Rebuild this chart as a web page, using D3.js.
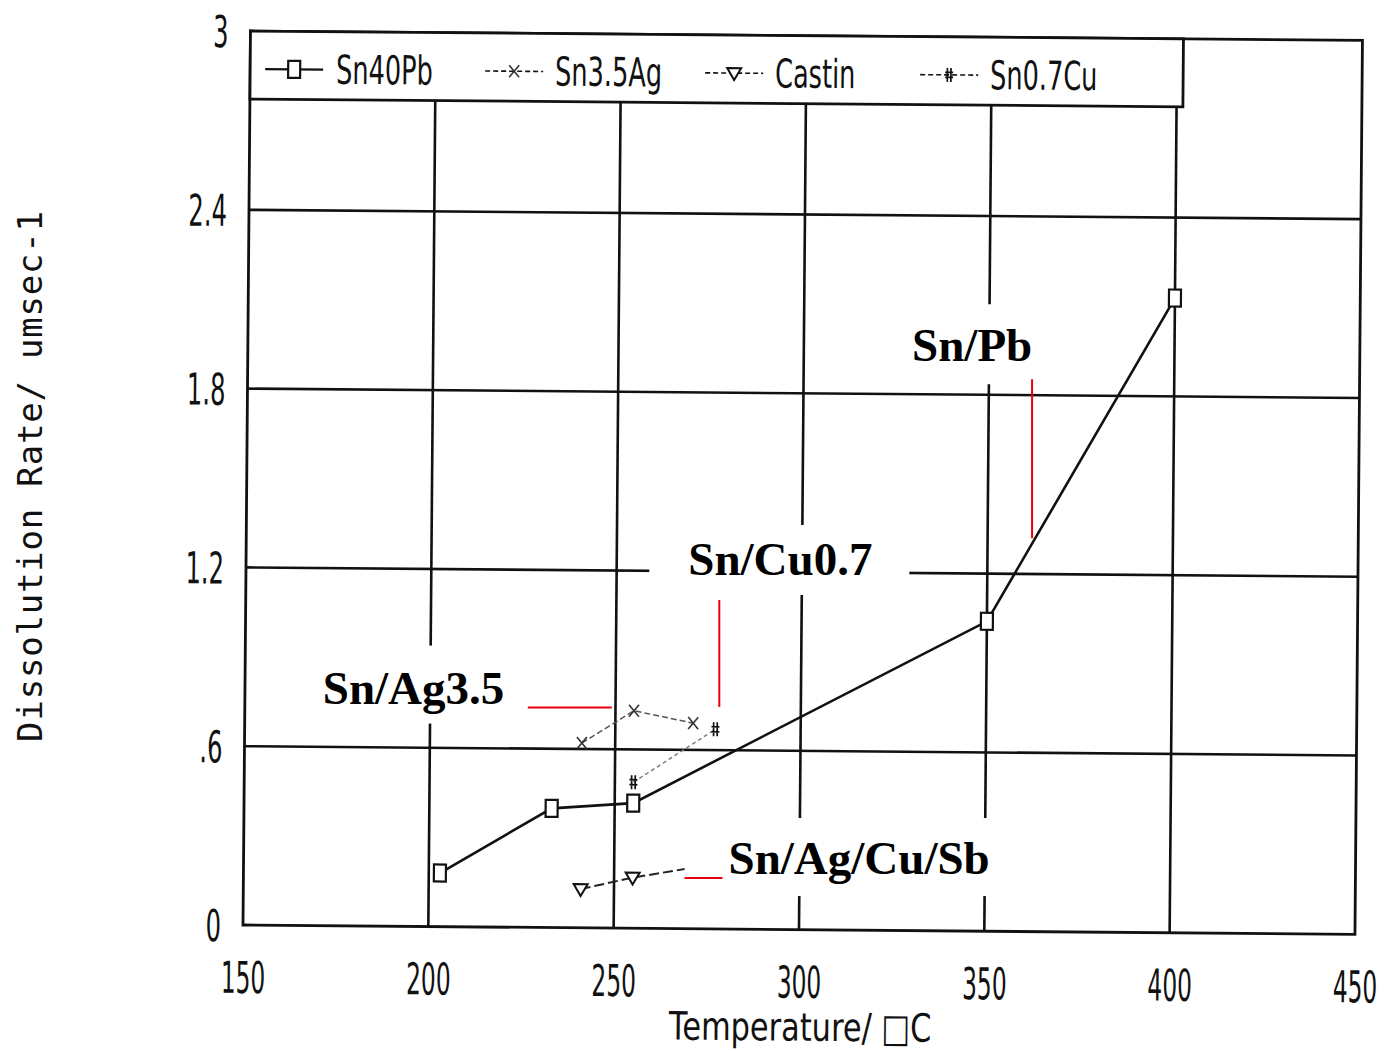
<!DOCTYPE html>
<html>
<head>
<meta charset="utf-8">
<script src="https://cdn.jsdelivr.net/npm/d3@7"></script>
<style>
  body { margin: 0; background: #fff; }
  svg { display: block; }
</style>
</head>
<body>
<svg id="chart" width="1395" height="1051"></svg>
<script>
// ---- data ----
const xTicks = [150, 200, 250, 300, 350, 400, 450];
const yTicks = [0, 0.6, 1.2, 1.8, 2.4, 3];
const yTickLabels = ["0", ".6", "1.2", "1.8", "2.4", "3"];

const seriesNames = ["Sn40Pb", "Sn3.5Ag", "Castin", "Sn0.7Cu"];

const sn40pbTemp = [203, 233, 255, 350, 400];
const sn40pbRate = [0.18, 0.40, 0.42, 1.04, 2.13];

const sn35agTemp = [241, 255, 271];
const sn35agRate = [0.62, 0.73, 0.69];

const castinTemp = [241, 255, 269];
const castinRate = [0.13, 0.17, 0.20];

const sn07cuTemp = [255, 277];
const sn07cuRate = [0.49, 0.67];

const annotationLabels = ["Sn/Pb", "Sn/Cu0.7", "Sn/Ag3.5", "Sn/Ag/Cu/Sb"];

// ---- layout ----
const svg = d3.select("#chart");
const W = 1112, H = 894;
const origin = [243, 925];           // bottom-left corner of the plot
const tiltDeg = 0.48;                // the plotted sheet sits slightly tilted
const tilt = tiltDeg * Math.PI / 180;

const x = d3.scaleLinear().domain([150, 450]).range([0, W]);
const y = d3.scaleLinear().domain([0, 3]).range([H, 0]);

const plot = svg.append("g")
  .attr("transform", `rotate(${tiltDeg},${origin[0]},${origin[1]}) translate(${origin[0]},${origin[1] - H})`);

// screen position of a data point (for the upright annotations)
function project(t, r) {
  const dx = x(t), dy = y(r) - H;
  return [origin[0] + dx * Math.cos(tilt) - dy * Math.sin(tilt),
          origin[1] + dx * Math.sin(tilt) + dy * Math.cos(tilt)];
}

const plotterFont = "'DejaVu Sans', sans-serif";
const monoFont = "'DejaVu Sans Mono', monospace";
const legendH = 68, legendW = 933;

// ---- grid ----
plot.append("g").selectAll("line")
  .data(yTicks.filter(v => v > 0 && v < 3))
  .join("line")
  .attr("x1", 0).attr("x2", W)
  .attr("y1", d => y(d)).attr("y2", d => y(d))
  .attr("stroke", "#111").attr("stroke-width", 2.6);

plot.append("g").selectAll("line")
  .data(xTicks.filter(v => v > 150 && v < 450))
  .join("line")
  .attr("x1", d => x(d)).attr("x2", d => x(d))
  .attr("y1", legendH).attr("y2", H)
  .attr("stroke", "#111").attr("stroke-width", 2.6);

// frame
plot.append("rect")
  .attr("x", 0).attr("y", 0).attr("width", W).attr("height", H)
  .attr("fill", "none").attr("stroke", "#111").attr("stroke-width", 2.8);

// ---- axes (labels only, plotter style) ----
const xAxis = d3.axisBottom(x).tickValues(xTicks).tickSize(0).tickPadding(0).tickFormat(d3.format("d"));
const gx = plot.append("g").attr("transform", `translate(0,${H})`).call(xAxis);
gx.select(".domain").remove();
gx.selectAll("text")
  .attr("font-family", plotterFont).attr("font-size", 44).attr("fill", "#111")
  .attr("dy", null).attr("y", 0)
  .attr("transform", "translate(0,68) scale(0.53,1)")
  .attr("text-anchor", "middle");

const yAxis = d3.axisLeft(y).tickValues(yTicks).tickSize(0).tickPadding(0)
  .tickFormat((d, i) => yTickLabels[i]);
const gy = plot.append("g").call(yAxis);
gy.select(".domain").remove();
gy.selectAll("text")
  .attr("font-family", plotterFont).attr("font-size", 44).attr("fill", "#111")
  .attr("x", 0).attr("dy", "0.36em")
  .attr("transform", "translate(-22,0) scale(0.55,1)")
  .attr("text-anchor", "end");

// axis titles
plot.append("text")
  .attr("transform", `translate(${W / 2 + 2},${H + 111}) scale(0.78,1)`)
  .attr("text-anchor", "middle")
  .attr("font-family", plotterFont).attr("font-size", 39).attr("fill", "#111")
  .text("Temperature/ \u25A1C");

svg.append("text")
  .attr("transform", "translate(42,476) rotate(-90)")
  .attr("text-anchor", "middle")
  .attr("font-family", monoFont).attr("font-size", 34)
  .attr("letter-spacing", 0.8).attr("fill", "#111")
  .text("Dissolution Rate/ umsec-1");

// ---- markers ----
function drawMarker(g, kind, cx, cy) {
  if (kind === "square") {
    g.append("rect").attr("x", cx - 6).attr("y", cy - 8.5).attr("width", 12).attr("height", 17)
      .attr("fill", "#fff").attr("stroke", "#111").attr("stroke-width", 2.2);
  } else if (kind === "cross") {
    g.append("path").attr("d", `M${cx - 5},${cy - 6}L${cx + 5},${cy + 6}M${cx + 5},${cy - 6}L${cx - 5},${cy + 6}`)
      .attr("stroke", "#333").attr("stroke-width", 1.6).attr("fill", "none");
  } else if (kind === "triangle") {
    g.append("path").attr("d", `M${cx - 7},${cy - 5}L${cx + 7},${cy - 5}L${cx},${cy + 7}Z`)
      .attr("fill", "#fff").attr("stroke", "#111").attr("stroke-width", 2);
  } else if (kind === "hash") {
    g.append("path").attr("d",
      `M${cx - 1.8},${cy - 7}L${cx - 1.8},${cy + 7}M${cx + 1.8},${cy - 7}L${cx + 1.8},${cy + 7}` +
      `M${cx - 4},${cy - 2.5}L${cx + 4},${cy - 2.5}M${cx - 4},${cy + 2.5}L${cx + 4},${cy + 2.5}`)
      .attr("stroke", "#111").attr("stroke-width", 1.7).attr("fill", "none");
  }
}

// ---- series ----
const series = [
  { name: seriesNames[0], t: sn40pbTemp, r: sn40pbRate, marker: "square",   color: "#111", width: 2.6, dash: null,   markLast: true },
  { name: seriesNames[1], t: sn35agTemp, r: sn35agRate, marker: "cross",    color: "#555", width: 1.5, dash: "6,3",  markLast: true },
  { name: seriesNames[2], t: castinTemp, r: castinRate, marker: "triangle", color: "#222", width: 2.0, dash: "10,4", markLast: false },
  { name: seriesNames[3], t: sn07cuTemp, r: sn07cuRate, marker: "hash",     color: "#777", width: 1.4, dash: "4,3",  markLast: true }
];

const line = d3.line().x(d => x(d[0])).y(d => y(d[1]));
const dataLayer = plot.append("g");
series.forEach(s => {
  const pts = s.t.map((t, i) => [t, s.r[i]]);
  dataLayer.append("path").datum(pts)
    .attr("d", line).attr("fill", "none")
    .attr("stroke", s.color).attr("stroke-width", s.width)
    .attr("stroke-dasharray", s.dash);
  const mg = dataLayer.append("g");
  pts.forEach((p, i) => {
    if (i === pts.length - 1 && !s.markLast) return;
    drawMarker(mg, s.marker, x(p[0]), y(p[1]));
  });
});

// ---- legend ----
const legend = plot.append("g");
legend.append("rect").attr("x", 0).attr("y", 0).attr("width", legendW).attr("height", legendH)
  .attr("fill", "#fff").attr("stroke", "#111").attr("stroke-width", 2.8);
const legendX = [15, 235, 455, 670];
series.forEach((s, i) => {
  const g = legend.append("g").attr("transform", `translate(${legendX[i]},0)`);
  g.append("line").attr("x1", 0).attr("x2", 58).attr("y1", 38).attr("y2", 38)
    .attr("stroke", "#111").attr("stroke-width", s.dash ? 1.6 : 2.4)
    .attr("stroke-dasharray", s.dash ? "5,3" : null);
  drawMarker(g, s.marker, 29, 38);
  g.append("text")
    .attr("transform", `translate(${i === 0 ? 71 : 70},52) scale(0.64,1)`)
    .attr("font-family", plotterFont).attr("font-size", 40).attr("fill", "#111")
    .text(s.name);
});

// ---- annotations (upright, drawn over the sheet) ----
const annotationLayout = [
  { at: [362, 1.32], leader: [0, -159], text: [-120, -177], box: [-127, -234, 135, 80] },
  { at: [278, 0.745], leader: [0, -107], text: [-31, -132], box: [-70, -182, 260, 70] },
  { at: [249, 0.74], leader: [-84, 0], text: [-289, -4], box: [-297, -62, 200, 78] },
  { at: [269, 0.17], leader: [38, 0], text: [44, -4], box: [37, -60, 278, 78] }
];
const notes = svg.append("g");
annotationLabels.forEach((label, i) => {
  const a = annotationLayout[i];
  const [px, py] = project(a.at[0], a.at[1]);
  notes.append("rect")
    .attr("x", px + a.box[0]).attr("y", py + a.box[1])
    .attr("width", a.box[2]).attr("height", a.box[3]).attr("fill", "#fff");
  notes.append("line")
    .attr("x1", px).attr("y1", py)
    .attr("x2", px + a.leader[0]).attr("y2", py + a.leader[1])
    .attr("stroke", "#e8000b").attr("stroke-width", 2);
  notes.append("text")
    .attr("x", px + a.text[0]).attr("y", py + a.text[1])
    .attr("font-family", "'Liberation Serif', 'Times New Roman', serif")
    .attr("font-weight", "bold").attr("font-size", 47).attr("fill", "#000")
    .text(label);
});
</script>
</body>
</html>
